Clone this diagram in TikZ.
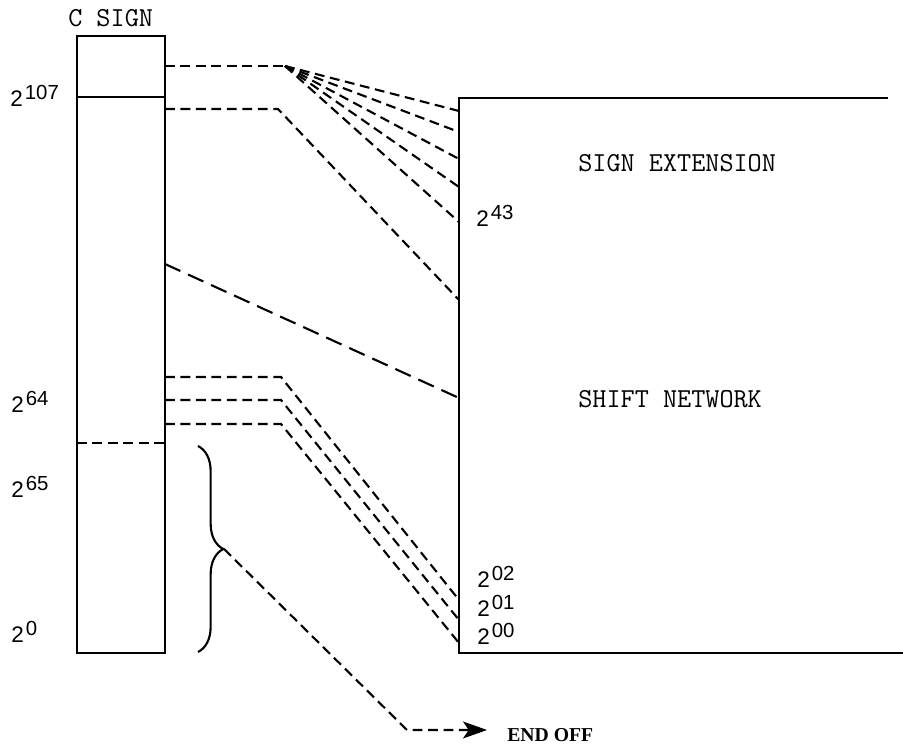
\documentclass[tikz,border=0pt]{standalone}
\usepackage{fontspec}
\newfontfamily\digfnt{Liberation Sans}
\newfontfamily\endfnt{Liberation Serif}
\usetikzlibrary{arrows.meta,positioning,decorations.pathreplacing,calc}
\newcommand{\pw}[1]{2\hspace{1.5pt}\raisebox{5.5pt}{\fontsize{14.5}{16}\selectfont #1}}

\begin{document}
\begin{tikzpicture}[x=0.025cm,y=-0.025cm,
    wire/.style={line width=1.5pt},
    dashwire/.style={line width=1.5pt,dash pattern=on 7pt off 4pt},
    longwire/.style={line width=1.5pt,dash pattern=on 12pt off 6pt},
    title/.style={font=\ttfamily\fontsize{19.5}{22}\selectfont,anchor=base west,inner sep=0pt},
    expo/.style={font=\digfnt\fontsize{16}{18}\selectfont,anchor=base west,inner sep=0pt},
    endtxt/.style={font=\endfnt\bfseries\fontsize{14}{17}\selectfont,anchor=base west,inner sep=0pt}]
  \useasboundingbox (0,0) rectangle (903,747);

  \draw[wire] (77,36) rectangle (165,653);
  \draw[wire] (77,97) -- (165,97);
  \draw[dashwire] (77,443) -- (165,443);
  \draw[wire] (888,98) -- (459,98) -- (459,653) -- (903,653);

  \node[title] (csign) at (68,27) {C SIGN};
  \node[title] (signext) at (578,172) {SIGN EXTENSION};
  \node[title] (shiftnet) at (578,408) {SHIFT NETWORK};
  \node[expo] (p107) at (10,107) {\pw{107}};
  \node[expo] (p64) at (11,413) {\pw{64}};
  \node[expo] (p65) at (11,498) {\pw{65}};
  \node[expo] (p0) at (11,643) {\pw{0}};
  \node[expo] (p43) at (476,227) {\pw{43}};
  \node[expo] (p02) at (477,588) {\pw{02}};
  \node[expo] (p01) at (477,617) {\pw{01}};
  \node[expo] (p00) at (477,645) {\pw{00}};

  \coordinate (sgn) at (165,66);
  \coordinate (fan) at (285,66);
  \draw[dashwire] (sgn) -- (fan);
  \foreach \n/\y in {1/111,2/132,3/159,4/187,5/222}{
    \coordinate (ext\n) at (459,\y);
    \draw[dashwire] (fan) -- (ext\n);
  }

  \coordinate (top) at (165,109);
  \coordinate (topbend) at (278,109);
  \coordinate (topend) at (459,300);
  \draw[dashwire] (top) -- (topbend) -- (topend);

  \coordinate (mid) at (165,264);
  \coordinate (midend) at (459,398);
  \draw[longwire] (mid) -- (midend);

  \foreach \n/\y/\z in {a/377/600,b/400/620,c/424/643}{
    \coordinate (low\n) at (165,\y);
    \coordinate (bend\n) at (281,\y);
    \coordinate (end\n) at (459,\z);
    \draw[dashwire] (low\n) -- (bend\n) -- (end\n);
  }

  \draw[wire,decorate,decoration={brace,amplitude=18pt}] (198,446) -- (198,652);
  \coordinate (tip) at (224,549);
  \coordinate (knee) at (407,730);
  \coordinate (arr) at (487,730);
  \draw[dashwire,-{Stealth[length=17pt,width=12pt,inset=4pt]}] (tip) -- (knee) -- (arr);
  \node[endtxt] (endoff) at (507,742) {END OFF};
\end{tikzpicture}
\end{document}
